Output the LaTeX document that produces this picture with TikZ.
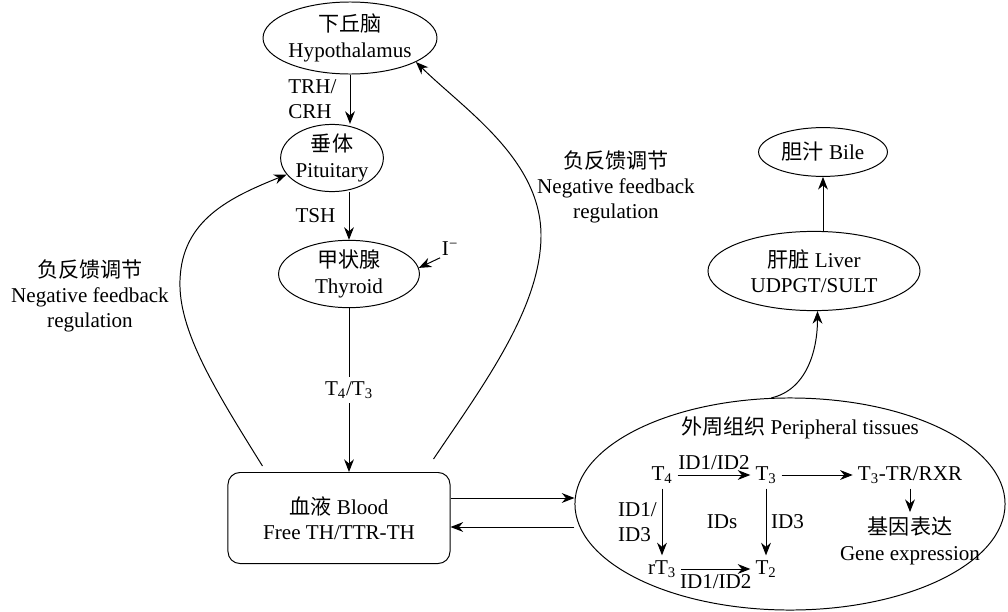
\documentclass[tikz,border=0pt]{standalone}
\usepackage{fontspec}
\setmainfont{Liberation Serif}
\newfontfamily\cjk{Noto Sans CJK SC}
\newcommand{\zh}[1]{{\cjk #1}}
\usepackage{tikz}
\usetikzlibrary{arrows.meta,shapes.geometric,calc,positioning}

\begin{document}
\begin{tikzpicture}[>={Stealth[length=9pt,width=7pt]},x=0.025cm,y=-0.025cm,line width=0.7pt,
	every node/.style={font=\fontsize{15}{18}\selectfont},
	organ/.style={ellipse,draw,inner sep=0pt,align=center}]
	\useasboundingbox (0,0) rectangle (1008,612);
	\node[organ,minimum width=3.75cm,minimum height=1.8cm] (hypo) at (350,38) {\zh{下丘脑}\\Hypothalamus};
	\node[organ,minimum width=2.5cm,minimum height=1.33cm] (pitu) at (332,158) {\zh{垂体}\\Pituitary};
	\node[organ,minimum width=3.52cm,minimum height=1.45cm] (thyr) at (349,274) {\zh{甲状腺}\\Thyroid};
	\node[draw,rounded corners=0.3cm,minimum width=5.55cm,minimum height=2.275cm,align=center] (blood) at (339,518) {\zh{血液} Blood\\Free TH/TTR-TH};
	\node[organ,minimum width=3.22cm,minimum height=1.22cm] (bile) at (823,152) {\zh{胆汁} Bile};
	\node[organ,minimum width=5.3cm,minimum height=1.98cm] (liver) at (814,271) {\zh{肝脏} Liver\\UDPGT/SULT};
	\node[organ,minimum width=10.75cm,minimum height=5.3cm] (peri) at (790,504) {};
	\node (peritxt) at (800,428) {\zh{外周组织} Peripheral tissues};
	\node (t4) at (662,475) {T\textsubscript{4}};
	\node (t3) at (766,475) {T\textsubscript{3}};
	\node (t3tr) at (910,475) {T\textsubscript{3}-TR/RXR};
	\node[align=center] (gene) at (910,541) {\zh{基因表达}\\Gene expression};
	\node (rt3) at (662,569) {rT\textsubscript{3}};
	\node (t2) at (766,569) {T\textsubscript{2}};
	\node (ids) at (722,522) {IDs};
	\node[inner sep=1pt] (iod) at (450,249) {I\textsuperscript{−}};
	\node[align=center] (fbl) at (90,296) {\zh{负反馈调节}\\Negative feedback\\regulation};
	\node[align=center] (fbr) at (616,187) {\zh{负反馈调节}\\Negative feedback\\regulation};
	\draw[->] (hypo.south) -- node[left=6pt,align=left] (trh) {TRH/\\CRH} (hypo.south |- pitu.north);
	\draw[->] (pitu.south -| thyr.north) -- node[left=6pt] (tsh) {TSH} (thyr.north);
	\draw[->] (thyr.south) -- node[fill=white] (t43) {T\textsubscript{4}/T\textsubscript{3}} (thyr.south |- blood.north);
	\draw[->] (iod.south west) -- (thyr.5);
	\draw[->] ($(blood.north west)+(35,-6)$) .. controls +(-48,-77) and +(-2,50) .. (180,280)
		.. controls +(2,-60) and +(-57,23) .. (pitu.200);
	\draw[->] ($(blood.north east)+(-17,-13)$) .. controls +(47,-70) and +(-1,73) .. (541,237)
		.. controls +(1,-77) and +(49,48) .. (hypo.-20);
	\draw[->] ($(blood.east)+(0,-20)$) -- ($(peri.west)+(0,-6)$);
	\draw[->] ($(peri.west)+(0,23)$) -- ($(blood.east)+(0,9)$);
	\draw[->] (peri.100) .. controls +(35,-8) and +(0,40) .. (liver.-85);
	\draw[->] (liver.north -| bile.south) -- (bile.south);
	\draw[->] (t4) -- node[above] (id12a) {ID1/ID2} (t3);
	\draw[->] (t3) -- (t3tr);
	\draw[->] (t3tr) -- (gene);
	\draw[->] (t4) -- node[left,align=left] (id13) {ID1/\\ID3} (rt3);
	\draw[->] (t3) -- node[right] (id3) {ID3} (t2);
	\draw[->] (rt3) -- node[below] (id12b) {ID1/ID2} (t2);
\end{tikzpicture}
\end{document}
